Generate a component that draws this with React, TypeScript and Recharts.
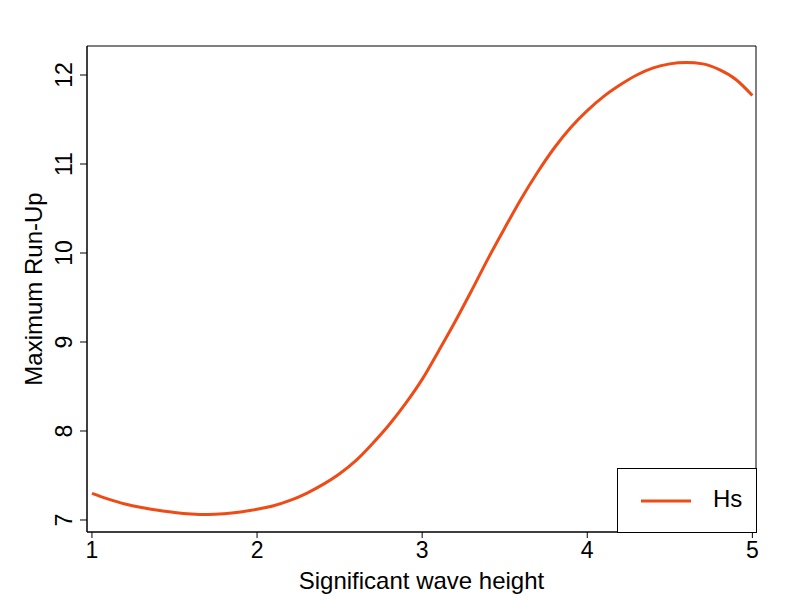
import { Legend, Line, LineChart, ReferenceArea, XAxis, YAxis } from "recharts";

const waveHeight = [
  1.0, 1.1, 1.2, 1.3, 1.4, 1.5, 1.6, 1.7, 1.8, 1.9, 2.0, 2.1, 2.2, 2.3, 2.4, 2.5, 2.6, 2.7, 2.8, 2.9, 3.0,
  3.1, 3.2, 3.3, 3.4, 3.5, 3.6, 3.7, 3.8, 3.9, 4.0, 4.1, 4.2, 4.3, 4.4, 4.5, 4.6, 4.7, 4.8, 4.9, 5.0
];
const runUp = [
  7.3, 7.235, 7.18, 7.14, 7.11, 7.085, 7.068, 7.062, 7.07, 7.09, 7.12, 7.16, 7.22, 7.3, 7.4, 7.52, 7.67,
  7.86, 8.07, 8.31, 8.58, 8.9, 9.23, 9.58, 9.94, 10.28, 10.61, 10.91, 11.18, 11.41, 11.6, 11.76, 11.89,
  12.0, 12.08, 12.125, 12.14, 12.125, 12.06, 11.95, 11.77
];
const xTicks = [1, 2, 3, 4, 5];
const yTicks = [7, 8, 9, 10, 11, 12];
const xDomain = [0.97, 5.022];
const yDomain = [6.865, 12.326];

const data = waveHeight.map((hs, i) => ({ hs, runUp: runUp[i] }));

const LINE = "#ee4b16";
const FONT = "'Liberation Sans', Arial, sans-serif";

function YTick(props: any) {
  const { x, y, payload } = props;
  return (
    <text
      x={x}
      y={y}
      transform={`rotate(-90, ${x}, ${y})`}
      textAnchor="middle"
      fontSize={23}
      fontFamily={FONT}
      fill="#000"
    >
      {payload.value}
    </text>
  );
}

function YTitle(props: any) {
  const { viewBox } = props;
  const cx = viewBox.x + 42;
  const cy = viewBox.y + viewBox.height / 2;
  return (
    <text
      x={cx}
      y={cy}
      transform={`rotate(-90, ${cx}, ${cy})`}
      textAnchor="middle"
      fontSize={24}
      fontFamily={FONT}
      fill="#000"
    >
      Maximum Run-Up
    </text>
  );
}

function LegendBox() {
  return (
    <div
      style={{
        width: 140,
        height: 65,
        boxSizing: "border-box",
        border: "1px solid #000",
        background: "#fff",
        position: "relative",
        fontFamily: FONT
      }}
    >
      <svg width={60} height={10} style={{ position: "absolute", left: 22, top: 27 }}>
        <line x1={1} x2={51} y1={5} y2={5} stroke={LINE} strokeWidth={3} />
      </svg>
      <span style={{ position: "absolute", left: 95, top: 17, fontSize: 24, color: "#000", lineHeight: "26px" }}>Hs</span>
    </div>
  );
}

export default function App() {
  return (
    <div style={{ position: "absolute", left: 0, top: 0, width: 800, height: 600, background: "#fff" }}>
      <LineChart width={800} height={600} data={data} margin={{ top: 46, right: 44, bottom: 0, left: 0 }}>
        <XAxis
          dataKey="hs"
          type="number"
          domain={xDomain}
          ticks={xTicks}
          allowDataOverflow
          height={68}
          tickSize={6}
          tickMargin={4}
          stroke="#000"
          tick={{ fontSize: 23, fontFamily: FONT, fill: "#000" }}
          label={{ value: "Significant wave height", position: "insideBottom", offset: 11, fontSize: 24, fontFamily: FONT, fill: "#000" }}
        />
        <YAxis
          type="number"
          domain={yDomain}
          ticks={yTicks}
          allowDataOverflow
          width={87}
          tickSize={7}
          tickMargin={8}
          stroke="#000"
          tick={<YTick />}
          label={<YTitle />}
        />
        <ReferenceArea
          x1={xDomain[0]}
          x2={xDomain[1]}
          y1={yDomain[0]}
          y2={yDomain[1]}
          fill="none"
          stroke="#000"
          strokeWidth={1}
          fillOpacity={0}
          ifOverflow="visible"
        />
        <Line
          dataKey="runUp"
          name="Hs"
          type="monotone"
          stroke={LINE}
          strokeWidth={3}
          dot={false}
          isAnimationActive={false}
        />
        <Legend
          layout="vertical"
          align="center"
          verticalAlign="middle"
          content={() => <LegendBox />}
          wrapperStyle={{ left: 617, top: 468, width: 140, height: 65 }}
        />
      </LineChart>
    </div>
  );
}
